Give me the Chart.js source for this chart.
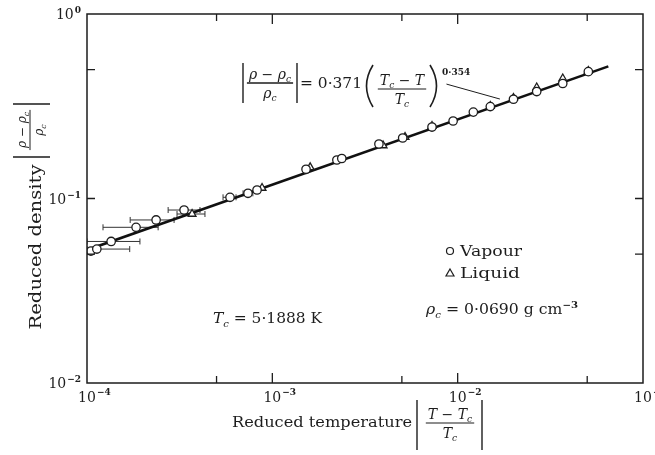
<!DOCTYPE html>
<html>
<head>
<meta charset="utf-8">
<script src="https://cdn.jsdelivr.net/npm/chart.js@4.4.0/dist/chart.umd.min.js"></script>
<style>
  body { margin: 0; background: #fff; }
  canvas { display: block; }
</style>
</head>
<body>
<canvas id="chart" width="655" height="455"></canvas>
<script>
"use strict";

// Vapour points (circles): reduced temperature, reduced density, horizontal error bars
const vapX = [1.05e-4, 1.13e-4, 1.35e-4, 1.84e-4, 2.36e-4, 3.34e-4, 5.91e-4, 7.39e-4, 8.27e-4,
  1.52e-3, 2.23e-3, 2.37e-3, 3.76e-3, 5.05e-3, 7.27e-3, 9.45e-3, 1.215e-2, 1.5e-2, 2.0e-2,
  2.67e-2, 3.69e-2, 5.07e-2];
const vapY = [0.0519, 0.0532, 0.0585, 0.0698, 0.0765, 0.0866, 0.1015, 0.1067, 0.1112,
  0.144, 0.1617, 0.1647, 0.1974, 0.2128, 0.244, 0.263, 0.294, 0.315, 0.345,
  0.38, 0.42, 0.487];
const vapErrLo = [null, 1.0e-4, 1.0e-4, 1.22e-4, 1.71e-4, 2.74e-4, 5.42e-4, 6.95e-4];
const vapErrHi = [null, 1.7e-4, 1.93e-4, 2.42e-4, 2.95e-4, 4.07e-4, 6.37e-4, 7.85e-4];

// Liquid points (triangles)
const liqX = [3.69e-4, 8.8e-4, 1.6e-3, 3.96e-3, 5.2e-3, 7.27e-3, 1.5e-2, 2.0e-2, 2.67e-2, 3.69e-2, 5.07e-2];
const liqY = [0.0824, 0.114, 0.1476, 0.1938, 0.2155, 0.247, 0.317, 0.3505, 0.3996, 0.447, 0.491];
const liqErrLo = [3.06e-4];
const liqErrHi = [4.33e-4];

// fitted line end points, and the leader from the formula to the line
const fitX = [1.0e-4, 6.5e-2];
const fitY = [0.0526, 0.52];
const leaderX = [8.7e-3, 1.69e-2];
const leaderY = [0.417, 0.346];

// axis ticks
const xDecades = [1e-4, 1e-3, 1e-2, 1e-1];
const xExp = ["\u22124", "\u22123", "\u22122", "\u22121"];
const xMinor = [5e-4, 1e-3, 5e-3, 1e-2, 5e-2];
const yDecades = [1, 1e-1, 1e-2];
const yExp = ["0", "\u22121", "\u22122"];
const yMinor = [0.5, 0.1, 0.05];

const INK = "#1d1d1d";
const SERIF = '"DejaVu Serif", "Liberation Serif", serif';

function setFont(ctx, size, italic, bold) {
  ctx.font = (italic ? "italic " : "") + (bold ? "bold " : "") + size + "px " + SERIF;
}

// parts: [text, kind]  kind: "" plain, "i" italic, "sub" subscript, "sup" superscript
function richWidth(ctx, parts, size) {
  let w = 0;
  for (const [t, k] of parts) {
    const small = k === "sub" || k === "sup";
    setFont(ctx, small ? size * 0.65 : size, k === "i" || k === "sub", k === "sup");
    w += ctx.measureText(t).width;
  }
  return w;
}

// fit: optional target width, the text is stretched horizontally to it
function drawRich(ctx, parts, x, y, size, align, fit) {
  const w = richWidth(ctx, parts, size);
  const s = fit ? fit / w : 1;
  const tw = w * s;
  const x0 = align === "center" ? x - tw / 2 : align === "right" ? x - tw : x;
  ctx.save();
  ctx.translate(x0, y);
  ctx.scale(s, 1);
  ctx.textAlign = "left";
  ctx.textBaseline = "alphabetic";
  let cx = 0;
  for (const [t, k] of parts) {
    const small = k === "sub" || k === "sup";
    setFont(ctx, small ? size * 0.65 : size, k === "i" || k === "sub", k === "sup");
    const dy = k === "sub" ? size * 0.25 : k === "sup" ? -size * 0.45 : 0;
    ctx.fillText(t, cx, dy);
    cx += ctx.measureText(t).width;
  }
  ctx.restore();
}

function drawFrac(ctx, cx, barY, num, den, size) {
  const w = Math.max(richWidth(ctx, num, size), richWidth(ctx, den, size)) + 4;
  drawRich(ctx, num, cx, barY - size * 0.32, size, "center");
  drawRich(ctx, den, cx, barY + size * 1.05, size, "center");
  ctx.beginPath();
  ctx.moveTo(cx - w / 2, barY);
  ctx.lineTo(cx + w / 2, barY);
  ctx.stroke();
}

function vline(ctx, x, y0, y1) {
  ctx.beginPath();
  ctx.moveTo(x, y0);
  ctx.lineTo(x, y1);
  ctx.stroke();
}

const RHO_NUM = [["\u03c1 \u2212 \u03c1", "i"], ["c", "sub"]];
const RHO_DEN = [["\u03c1", "i"], ["c", "sub"]];

const errorBars = {
  id: "errorBars",
  beforeDatasetsDraw(chart) {
    const { ctx, chartArea: a, scales: { x, y } } = chart;
    ctx.save();
    ctx.beginPath();
    ctx.rect(a.left, a.top, a.width, a.height);
    ctx.clip();
    ctx.strokeStyle = "#333";
    ctx.lineWidth = 1;
    const sets = [[vapY, vapErrLo, vapErrHi], [liqY, liqErrLo, liqErrHi]];
    for (const [ys, lo, hi] of sets) {
      lo.forEach((l, i) => {
        if (l == null) return;
        const py = y.getPixelForValue(ys[i]);
        const p0 = x.getPixelForValue(l);
        const p1 = x.getPixelForValue(hi[i]);
        ctx.beginPath();
        ctx.moveTo(p0, py);
        ctx.lineTo(p1, py);
        ctx.moveTo(p0, py - 3);
        ctx.lineTo(p0, py + 3);
        ctx.moveTo(p1, py - 3);
        ctx.lineTo(p1, py + 3);
        ctx.stroke();
      });
    }
    ctx.restore();
  }
};

const decorations = {
  id: "decorations",
  afterDraw(chart) {
    const { ctx, chartArea: a, scales: { x, y } } = chart;
    ctx.save();
    ctx.strokeStyle = INK;
    ctx.fillStyle = INK;

    // frame and inward ticks
    ctx.lineWidth = 1.5;
    ctx.strokeRect(a.left, a.top, a.width, a.height);
    ctx.lineWidth = 1.3;
    xMinor.forEach(v => {
      const px = x.getPixelForValue(v);
      const len = Math.abs(Math.log10(v) % 1) < 1e-9 ? 10 : 7;
      vline(ctx, px, a.top, a.top + len);
      vline(ctx, px, a.bottom, a.bottom - len);
    });
    yMinor.forEach(v => {
      const py = y.getPixelForValue(v);
      ctx.beginPath();
      ctx.moveTo(a.left, py);
      ctx.lineTo(a.left + 8, py);
      ctx.moveTo(a.right, py);
      ctx.lineTo(a.right - 8, py);
      ctx.stroke();
    });

    // tick labels
    xDecades.forEach((v, i) => {
      const px = x.getPixelForValue(v);
      setFont(ctx, 14, false, false);
      ctx.textAlign = "center";
      ctx.textBaseline = "alphabetic";
      ctx.fillText("10", px, 402);
      setFont(ctx, 9, false, true);
      ctx.textAlign = "left";
      ctx.fillText(xExp[i], px + 10, 395);
    });
    yDecades.forEach((v, i) => {
      const py = y.getPixelForValue(v);
      setFont(ctx, 9, false, true);
      ctx.textAlign = "right";
      ctx.textBaseline = "alphabetic";
      ctx.fillText(yExp[i], 81, py - 1);
      const ew = ctx.measureText(yExp[i]).width;
      setFont(ctx, 14, false, false);
      ctx.fillText("10", 81 - ew - 1, py + 5);
    });

    // formula on the plot
    ctx.lineWidth = 1.4;
    vline(ctx, 243, 63, 103);
    vline(ctx, 297, 63, 103);
    drawFrac(ctx, 270, 83, RHO_NUM, RHO_DEN, 14);
    drawRich(ctx, [["= 0\u00b7371", ""]], 300, 88, 15, "left", 62);
    ctx.lineWidth = 1.6;
    ctx.beginPath();
    ctx.moveTo(373, 65);
    ctx.quadraticCurveTo(360, 86, 373, 107);
    ctx.moveTo(430, 65);
    ctx.quadraticCurveTo(443, 86, 430, 107);
    ctx.stroke();
    ctx.lineWidth = 1.2;
    drawFrac(ctx, 402, 89, [["T", "i"], ["c", "sub"], [" \u2212 T", "i"]], [["T", "i"], ["c", "sub"]], 14);
    setFont(ctx, 9, false, true);
    ctx.textAlign = "left";
    ctx.fillText("0\u00b7354", 442, 75);

    // leader line from the formula to the fitted line
    ctx.lineWidth = 1;
    ctx.beginPath();
    ctx.moveTo(x.getPixelForValue(leaderX[0]), y.getPixelForValue(leaderY[0]));
    ctx.lineTo(x.getPixelForValue(leaderX[1]), y.getPixelForValue(leaderY[1]));
    ctx.stroke();

    // constants
    drawRich(ctx, [["T", "i"], ["c", "sub"], [" = 5\u00b71888 K", ""]], 213, 323, 15, "left", 109);
    drawRich(ctx, [["\u03c1", "i"], ["c", "sub"], [" = 0\u00b70690 g cm", ""], ["\u22123", "sup"]], 426, 314, 14, "left", 152);

    // legend
    ctx.lineWidth = 1.2;
    ctx.beginPath();
    ctx.arc(450, 251, 3.5, 0, Math.PI * 2);
    ctx.stroke();
    ctx.beginPath();
    ctx.moveTo(450, 269);
    ctx.lineTo(454, 276);
    ctx.lineTo(446, 276);
    ctx.closePath();
    ctx.stroke();
    drawRich(ctx, [["Vapour", ""]], 460, 256, 15, "left", 62);
    drawRich(ctx, [["Liquid", ""]], 460, 278, 15, "left", 60);

    // x axis title
    drawRich(ctx, [["Reduced temperature", ""]], 232, 427, 15, "left", 180);
    ctx.lineWidth = 1.4;
    vline(ctx, 417, 400, 450);
    vline(ctx, 482, 400, 450);
    ctx.lineWidth = 1.1;
    drawFrac(ctx, 450, 423, [["T \u2212 T", "i"], ["c", "sub"]], [["T", "i"], ["c", "sub"]], 14);

    // y axis title (rotated)
    ctx.translate(36, 247);
    ctx.rotate(-Math.PI / 2);
    drawRich(ctx, [["Reduced density", ""]], 0, 5, 16, "center", 165);
    ctx.lineWidth = 1.4;
    ctx.beginPath();
    ctx.moveTo(90, -23); ctx.lineTo(90, 14);
    ctx.moveTo(143, -23); ctx.lineTo(143, 14);
    ctx.stroke();
    ctx.lineWidth = 1;
    drawFrac(ctx, 117, -6, RHO_NUM, RHO_DEN, 12);

    ctx.restore();
  }
};

const logAxis = (min, max) => ({
  type: "logarithmic",
  min: min,
  max: max,
  grid: { display: false, drawTicks: false },
  border: { display: false },
  ticks: { display: false }
});

new Chart(document.getElementById("chart").getContext("2d"), {
  type: "scatter",
  data: {
    datasets: [
      {
        label: "Vapour",
        data: vapX.map((v, i) => ({ x: v, y: vapY[i] })),
        pointStyle: "circle",
        pointRadius: 4.2,
        pointBackgroundColor: "#fff",
        pointBorderColor: INK,
        pointBorderWidth: 1.3,
        order: 1
      },
      {
        label: "Liquid",
        data: liqX.map((v, i) => ({ x: v, y: liqY[i] })),
        pointStyle: "triangle",
        pointRadius: 4.5,
        pointBackgroundColor: "#fff",
        pointBorderColor: INK,
        pointBorderWidth: 1.3,
        order: 2
      },
      {
        label: "Fit",
        data: fitX.map((v, i) => ({ x: v, y: fitY[i] })),
        showLine: true,
        borderColor: "#111",
        borderWidth: 2.6,
        pointRadius: 0,
        order: 3
      }
    ]
  },
  options: {
    responsive: false,
    animation: false,
    layout: { padding: { left: 87, top: 14, right: 12, bottom: 72 } },
    plugins: { legend: { display: false }, tooltip: { enabled: false } },
    scales: {
      x: logAxis(1e-4, 1e-1),
      y: logAxis(1e-2, 1)
    }
  },
  plugins: [errorBars, decorations]
});
</script>
</body>
</html>
